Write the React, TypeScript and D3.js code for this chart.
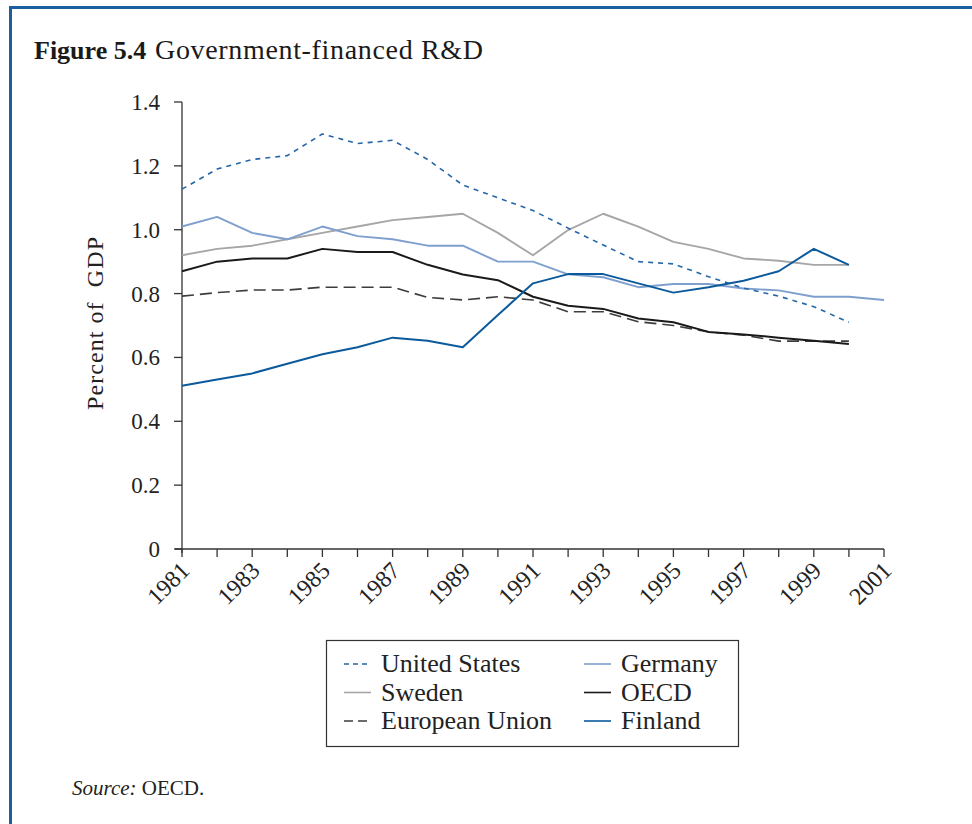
import React from "react";
import * as d3 from "d3";

const years = [1981,1982,1983,1984,1985,1986,1987,1988,1989,1990,1991,1992,1993,1994,1995,1996,1997,1998,1999,2000,2001];
const yearTicks = [1981,1983,1985,1987,1989,1991,1993,1995,1997,1999,2001];
const yTicks = [0,0.2,0.4,0.6,0.8,1.0,1.2,1.4];

const unitedStates = [1.127,1.19,1.22,1.232,1.30,1.27,1.28,1.22,1.14,1.10,1.06,1.005,0.952,0.90,0.893,0.853,0.817,0.792,0.759,0.71,null];
const germany = [1.01,1.04,0.99,0.97,1.01,0.98,0.97,0.95,0.95,0.90,0.90,0.86,0.851,0.82,0.83,0.83,0.816,0.81,0.79,0.79,0.78];
const sweden = [0.92,0.94,0.95,0.97,0.99,1.01,1.03,1.04,1.05,0.99,0.92,0.999,1.05,1.01,0.962,0.94,0.91,0.903,0.89,0.89,null];
const oecd = [0.87,0.90,0.91,0.91,0.94,0.93,0.93,0.89,0.86,0.842,0.79,0.762,0.752,0.722,0.71,0.68,0.672,0.662,0.652,0.642,null];
const europeanUnion = [0.792,0.803,0.811,0.811,0.82,0.82,0.82,0.788,0.78,0.79,0.78,0.743,0.743,0.712,0.70,0.68,0.67,0.651,0.651,0.651,null];
const finland = [0.511,0.531,0.55,0.58,0.61,0.632,0.662,0.652,0.632,0.733,0.832,0.861,0.861,0.832,0.803,0.82,0.84,0.87,0.94,0.89,null];

const seriesNames = ["United States","Sweden","European Union","Germany","OECD","Finland"];

type S = { name: string; values: (number|null)[]; color: string; dash: string | null; width: number };

const series: S[] = [
  { name: "Sweden", values: sweden, color: "#a6a6a8", dash: null, width: 1.9 },
  { name: "Germany", values: germany, color: "#7f9fcf", dash: null, width: 1.9 },
  { name: "United States", values: unitedStates, color: "#2466a8", dash: "5,5", width: 1.6 },
  { name: "European Union", values: europeanUnion, color: "#3c3c3c", dash: "12,6", width: 1.6 },
  { name: "OECD", values: oecd, color: "#1a1a1a", dash: null, width: 2 },
  { name: "Finland", values: finland, color: "#0b5a9b", dash: null, width: 2 },
];

const FONT = "'Liberation Serif', 'Times New Roman', serif";

export default function App() {
  const W = 972, H = 824;
  const x = d3.scaleLinear().domain([1981, 2001]).range([182, 884]);
  const y = d3.scaleLinear().domain([0, 1.4]).range([549, 102]);

  const line = d3.line<[number, number | null]>()
    .defined(d => d[1] != null)
    .x(d => x(d[0]))
    .y(d => y(d[1] as number));

  const byName = (n: string) => series.find(s => s.name === n)!;

  const legendX = 326, legendY = 640, legendW = 412, legendH = 106;
  const rowH = 28.5;

  return (
    <svg width={W} height={H} style={{ position: "absolute", left: 0, top: 0, background: "#fff" }} fontFamily={FONT}>
      <rect x={0} y={0} width={W} height={H} fill="#fff" />
      {/* frame */}
      <path d={`M10.5,${H} L10.5,7.5 L${W},7.5`} fill="none" stroke="#1b5f9e" strokeWidth={3} />

      {/* title */}
      <text x={34} y={59} fontSize={26} fontFamily={FONT} fill="#1a1a1a" fontWeight="bold">Figure 5.4</text>
      <text x={155} y={59} fontSize={28} fontFamily={FONT} fill="#1a1a1a" textLength={328} lengthAdjust="spacing">Government-financed R&amp;D</text>

      {/* y axis */}
      <line x1={182} x2={182} y1={y(1.4)} y2={y(0) + 4} stroke="#333" strokeWidth={1.3} />
      {yTicks.map(t => (
        <g key={t}>
          <line x1={174} x2={182} y1={y(t)} y2={y(t)} stroke="#333" strokeWidth={1.3} />
          <text x={160} y={y(t) + 8} textAnchor="end" fontSize={23} fontFamily={FONT} fill="#222">
            {t === 0 ? "0" : d3.format(".1f")(t)}
          </text>
        </g>
      ))}
      <text transform={`translate(103,${(237 + 410) / 2}) rotate(-90)`} textAnchor="middle" fontSize={24} fontFamily={FONT} fill="#222" textLength={173} lengthAdjust="spacing">
        {"Percent of\u00a0 GDP"}
      </text>

      {/* x axis */}
      <line x1={175} x2={884} y1={y(0)} y2={y(0)} stroke="#333" strokeWidth={1.3} />
      {years.map(yr => (
        <line key={yr} x1={x(yr)} x2={x(yr)} y1={y(0)} y2={y(0) + 8} stroke="#333" strokeWidth={1.3} />
      ))}
      {yearTicks.map(yr => (
        <text key={yr} transform={`translate(${x(yr) + 9},${y(0) + 23}) rotate(-45)`} textAnchor="end" fontSize={24} fontFamily={FONT} fill="#222">
          {yr}
        </text>
      ))}

      {/* lines */}
      {series.map(s => (
        <path key={s.name}
          d={line(years.map((yr, i) => [yr, s.values[i]] as [number, number | null])) || ""}
          fill="none" stroke={s.color} strokeWidth={s.width}
          strokeDasharray={s.dash || undefined} strokeLinejoin="round" />
      ))}

      {/* legend */}
      <rect x={legendX + 0.5} y={legendY + 0.5} width={legendW} height={legendH} fill="#fff" stroke="#333" strokeWidth={1.2} />
      {seriesNames.map((n, i) => {
        const s = byName(n);
        const col = Math.floor(i / 3), row = i % 3;
        const lx = legendX + 18 + col * 240;
        const ly = legendY + 24 + row * rowH;
        return (
          <g key={n}>
            <line x1={lx} x2={lx + 27} y1={ly} y2={ly} stroke={s.color} strokeWidth={1.6}
              strokeDasharray={s.dash ? (s.name === "United States" ? "5,4" : "9,5") : undefined} />
            <text x={lx + 37} y={ly + 8} fontSize={26} fontFamily={FONT} fill="#222">{n}</text>
          </g>
        );
      })}

      {/* source */}
      <text x={72} y={795} fontSize={21} fontFamily={FONT} fill="#222">
        <tspan fontStyle="italic">Source:</tspan>
        <tspan> OECD.</tspan>
      </text>
    </svg>
  );
}
